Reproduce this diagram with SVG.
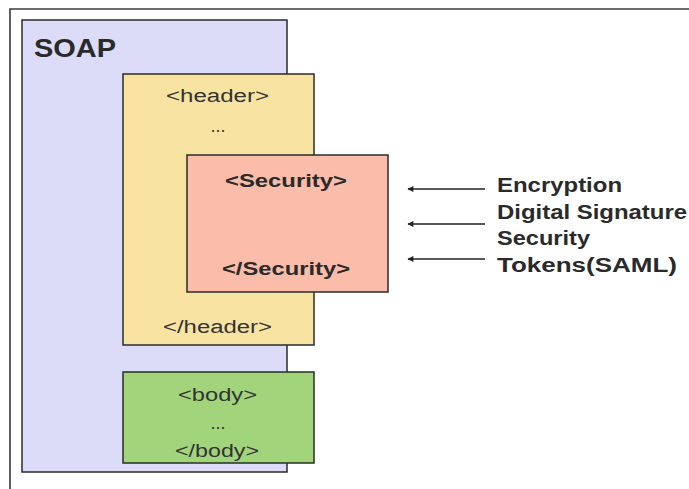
<svg xmlns="http://www.w3.org/2000/svg" width="689" height="489" viewBox="0 0 689 489">
<defs>
<style>
.box{stroke:#2b2b2b;stroke-width:1.5}
.t{font-family:"Liberation Sans",Arial,sans-serif;fill:#2a2a2a}
.reg{font-size:18px;fill:#333}
.b{font-weight:bold}
.conn{stroke:#222;stroke-width:1.3;fill:none}
</style>
<marker id="ah" viewBox="0 0 10 10" refX="9" refY="5" markerWidth="9" markerHeight="6" markerUnits="userSpaceOnUse" orient="auto">
<path d="M0,0 L10,5 L0,10 Z" fill="#222"/>
</marker>
</defs>
<rect width="689" height="489" fill="#fff"/>
<g id="frame">
<path d="M10,489 L10,9 L689,9" stroke="#3a3a3a" stroke-width="1.6" fill="none"/>
</g>
<g id="soap">
<rect class="box" x="22" y="20" width="265" height="452" fill="#dcdcf8"/>
<text class="t b" x="34" y="57" font-size="25" textLength="82" lengthAdjust="spacingAndGlyphs">SOAP</text>
</g>
<g id="header">
<rect class="box" x="123" y="74" width="191" height="271" fill="#f8e3a2"/>
<text class="t reg" x="166" y="102" textLength="103" lengthAdjust="spacingAndGlyphs">&lt;header&gt;</text>
<text class="t reg" x="218" y="132" text-anchor="middle" font-size="12" fill="#777">...</text>
<text class="t reg" x="163" y="333" textLength="109" lengthAdjust="spacingAndGlyphs">&lt;/header&gt;</text>
</g>
<g id="security">
<rect class="box" x="187" y="155" width="201" height="137" fill="#fbbda9"/>
<text class="t b" x="225" y="187" font-size="18" textLength="122" lengthAdjust="spacingAndGlyphs">&lt;Security&gt;</text>
<text class="t b" x="222" y="275" font-size="18" textLength="128" lengthAdjust="spacingAndGlyphs">&lt;/Security&gt;</text>
</g>
<g id="body">
<rect class="box" x="123" y="372" width="191" height="91" fill="#a2d47b"/>
<text class="t reg" x="178" y="401" textLength="79" lengthAdjust="spacingAndGlyphs">&lt;body&gt;</text>
<text class="t reg" x="218" y="429" text-anchor="middle" font-size="12" fill="#666">...</text>
<text class="t reg" x="175" y="457" textLength="84" lengthAdjust="spacingAndGlyphs">&lt;/body&gt;</text>
</g>
<g id="features">
<text class="t b" x="497" y="192" font-size="20" textLength="125" lengthAdjust="spacingAndGlyphs">Encryption</text>
<text class="t b" x="497" y="218.5" font-size="20" textLength="190" lengthAdjust="spacingAndGlyphs">Digital Signature</text>
<text class="t b" x="497" y="245" font-size="20" textLength="93" lengthAdjust="spacingAndGlyphs">Security</text>
<text class="t b" x="497" y="271.5" font-size="20" textLength="180" lengthAdjust="spacingAndGlyphs">Tokens(SAML)</text>
</g>
<g id="connectors">
<line class="conn" x1="485" y1="189" x2="408" y2="189" marker-end="url(#ah)"/>
<line class="conn" x1="485" y1="224" x2="408" y2="224" marker-end="url(#ah)"/>
<line class="conn" x1="485" y1="259" x2="408" y2="259" marker-end="url(#ah)"/>
</g>
</svg>
